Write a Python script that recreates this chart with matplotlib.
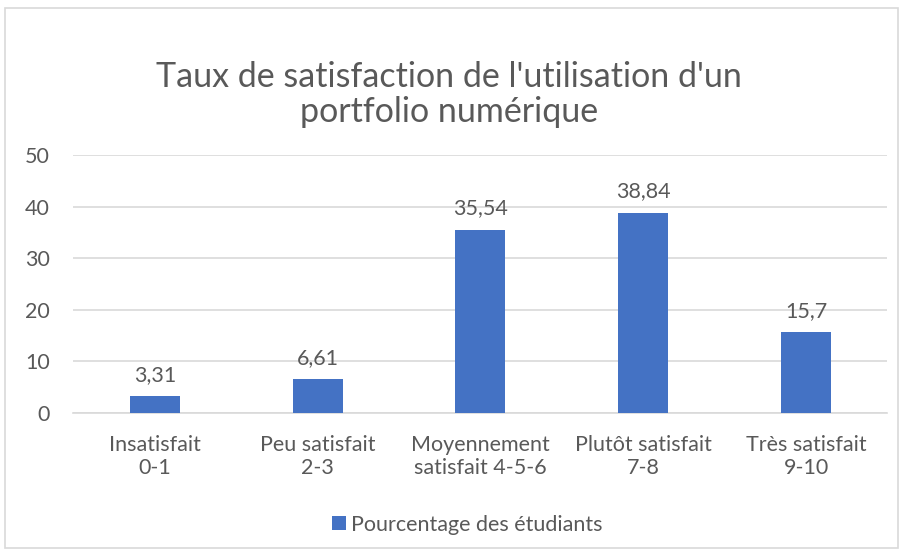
import numpy as np
import matplotlib.pyplot as plt
from matplotlib.patches import Rectangle

categories = ["Insatisfait\n0-1", "Peu satisfait\n2-3", "Moyennement\nsatisfait 4-5-6",
              "Plutôt satisfait\n7-8", "Très satisfait\n9-10"]
values = [3.31, 6.61, 35.54, 38.84, 15.7]
value_labels = ["3,31", "6,61", "35,54", "38,84", "15,7"]
series_name = "Pourcentage des étudiants"
title = "Taux de satisfaction de l'utilisation d'un\nportfolio numérique"

plt.rcParams['font.family'] = ['Lato', 'DejaVu Sans']
txt = "#595959"
blue = "#4472C4"

fig = plt.figure(figsize=(9.04, 5.56), dpi=100)
ax = fig.add_axes([0.0813, 0.2572, 0.9004, 0.464])

x = np.arange(len(categories))
bars = ax.bar(x, values, width=0.307, color=blue, label=series_name, zorder=3)
for xi, v, lab in zip(x, values, value_labels):
    ax.annotate(lab, (xi, v), xytext=(0, 8), textcoords="offset points",
                ha="center", va="bottom", fontsize=15.5, color=txt)

ax.set_xlim(-0.5, len(categories) - 0.5)
ax.set_ylim(0, 50)
ax.set_yticks(range(0, 51, 10))
ax.set_xticks(x)
ax.set_xticklabels(categories, fontsize=15.5, color=txt, linespacing=1.15)
ax.tick_params(axis="y", labelsize=15.5, labelcolor=txt, length=0, pad=17)
ax.tick_params(axis="x", length=0, pad=16)
ax.grid(axis="y", color="#D9D9D9", linewidth=1.2, zorder=0)
for s in ["top", "right", "left"]:
    ax.spines[s].set_visible(False)
ax.spines["bottom"].set_color("#D9D9D9")
ax.spines["bottom"].set_linewidth(1.2)

fig.text(0.497, 0.83, title, ha="center", va="center", fontsize=24.5, color=txt,
         linespacing=1.15)

fig.legend(handles=[bars], labels=[series_name], loc="center", bbox_to_anchor=(0.517, 0.056),
           frameon=False, fontsize=15.5, labelcolor=txt, handlelength=0.63, handleheight=0.63,
           handletextpad=0.25)

fig.patches.append(Rectangle((5 / 904, 8 / 556), 893 / 904, 540 / 556, transform=fig.transFigure,
                             fill=False, edgecolor="#D9D9D9", linewidth=1.2))

fig.savefig("out.png", dpi=100)
